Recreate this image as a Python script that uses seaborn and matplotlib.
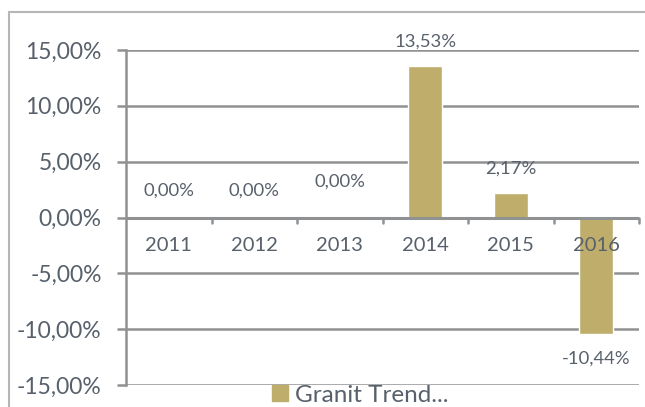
import matplotlib
matplotlib.use("Agg")
import matplotlib.pyplot as plt
import matplotlib.lines as mlines
import seaborn as sns
import pandas as pd

# Yearly change of the Granit Trend fund
years = ["2011", "2012", "2013", "2014", "2015", "2016"]
returns = [0.00, 0.00, 0.00, 13.53, 2.17, -10.44]
series_name = "Granit Trend..."
y_ticks = [-15, -10, -5, 0, 5, 10, 15]

df = pd.DataFrame({"year": years, "ret": returns})

sns.set_theme(style="white")
plt.rcParams["font.family"] = ["Lato", "DejaVu Sans"]

TEXT = "#58606b"
GRID = "#8f9193"
BAR = "#bfae6b"

fig = plt.figure(figsize=(6.45, 4.07), dpi=100)
ax = fig.add_axes([126 / 645, 1 - 385 / 407, (639 - 126) / 645, (385 - 50) / 407])

sns.barplot(data=df, x="year", y="ret", color=BAR, width=0.4,
            saturation=1, ax=ax, zorder=3)

ax.set_ylim(-15, 15)
ax.set_xlim(-0.5, len(years) - 0.5)
ax.set_yticks(y_ticks)
ax.set_yticklabels([f"{v:.2f}%".replace(".", ",") for v in y_ticks],
                   fontsize=16.5, color=TEXT)
ax.set_xlabel("")
ax.set_ylabel("")

# horizontal gridlines
for v in y_ticks:
    if v != 0:
        ax.axhline(v, color=GRID, lw=1.8, zorder=1)

# spines: left axis and the zero line carrying the year labels
for s in ["top", "right", "bottom"]:
    ax.spines[s].set_visible(False)
ax.spines["left"].set_color(GRID)
ax.spines["left"].set_linewidth(1.8)
ax.axhline(0, color=GRID, lw=2.2, zorder=4)

ax.tick_params(axis="y", direction="out", length=6.5, width=1.8, color=GRID,
               pad=11, left=True)
ax.tick_params(axis="x", length=0, pad=0)
ax.set_xticks(range(len(years)))
ax.set_xticklabels([])
for i, lab in enumerate(years):
    ax.annotate(lab, xy=(i, 0), xytext=(0, -20), textcoords="offset points",
                ha="center", va="center", fontsize=14.5, color=TEXT, zorder=6)
# small boundary ticks below the zero line
for b in range(1, len(years) + 1):
    ax.plot([b - 0.5, b - 0.5], [0, -0.45], color=GRID, lw=1.8, zorder=4,
            clip_on=False)

# value labels
label_offsets = [19, 19, 26, 18, 18, -18]
for i, (v, off) in enumerate(zip(returns, label_offsets)):
    ax.annotate(f"{v:.2f}%".replace(".", ","), xy=(i, v), xytext=(0, off),
                textcoords="offset points", ha="center", va="center",
                fontsize=13.3, color=TEXT, zorder=6)

# legend under the plot
handle = mlines.Line2D([], [], marker="s", linestyle="none", markersize=11,
                       markerfacecolor=BAR, markeredgecolor=BAR)
fig.legend([handle], [series_name], loc="center", bbox_to_anchor=(358 / 645, 1 - 395 / 407),
           frameon=False, fontsize=17.5, labelcolor=TEXT, handletextpad=0.1,
           borderpad=0, handlelength=1.0)

# chart area frame
fig.add_artist(mlines.Line2D([9 / 645, 9 / 645], [0, 1 - 12 / 407], color="#b4b6b8",
                             lw=1.5, transform=fig.transFigure))
fig.add_artist(mlines.Line2D([9 / 645, 1], [1 - 12 / 407, 1 - 12 / 407], color="#b4b6b8",
                             lw=1.5, transform=fig.transFigure))

fig.savefig("out.png", dpi=100)
